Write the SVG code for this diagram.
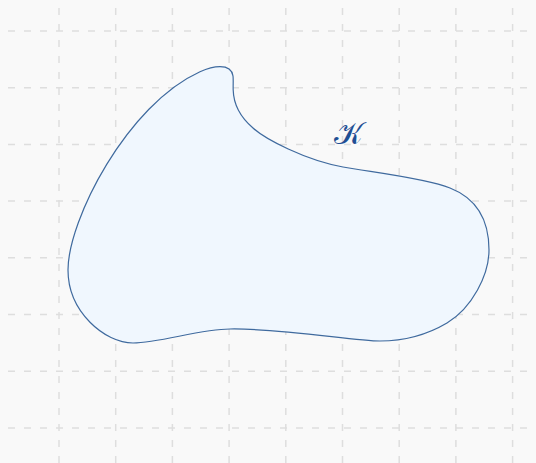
<svg xmlns="http://www.w3.org/2000/svg" width="536" height="463" viewBox="0 0 536 463">
<style>
.grid line{stroke:#dedede;stroke-width:1.5;stroke-dasharray:7 9}
.shape{fill:#f0f7fe;stroke:#3f6a9e;stroke-width:1.2}
.lbl{font-family:"DejaVu Sans","Noto Sans",sans-serif;font-size:31px;fill:#1f4f94}
</style>
<rect width="536" height="463" fill="#f9f9f9"/>
<g class="grid">
<line x1="59" y1="8" x2="59" y2="463"/>
<line x1="115.7" y1="8" x2="115.7" y2="463"/>
<line x1="172.4" y1="8" x2="172.4" y2="463"/>
<line x1="229.1" y1="8" x2="229.1" y2="463"/>
<line x1="285.8" y1="8" x2="285.8" y2="463"/>
<line x1="342.5" y1="8" x2="342.5" y2="463"/>
<line x1="399.2" y1="8" x2="399.2" y2="463"/>
<line x1="455.9" y1="8" x2="455.9" y2="463"/>
<line x1="512.6" y1="8" x2="512.6" y2="463"/>
<line x1="8" y1="31" x2="536" y2="31"/>
<line x1="8" y1="87.7" x2="536" y2="87.7"/>
<line x1="8" y1="144.4" x2="536" y2="144.4"/>
<line x1="8" y1="201.1" x2="536" y2="201.1"/>
<line x1="8" y1="257.8" x2="536" y2="257.8"/>
<line x1="8" y1="314.5" x2="536" y2="314.5"/>
<line x1="8" y1="371.2" x2="536" y2="371.2"/>
<line x1="8" y1="427.9" x2="536" y2="427.9"/>
</g>
<g id="region-K">
<path class="shape" d="M 220,66.6 C 227,66.6 232,69 233,76 C 233.5,80 233,84 233.2,90 C 233.5,102 239,116 253,128 C 265,139 305,160 343,167 C 370,172 425,178 450,188 C 478,199 489,222 489,250 C 489,275 472,308 447,323 C 425,336 400,341 380,341 C 355,341 280,328 230,329 C 200,329 160,343 133,343 C 105,343 68,312 68,270 C 68,220 127.2,104.5 200,71.7 C 206.4,68.8 214,66.6 220,66.6 Z"/>
<text class="lbl" x="348" y="144" text-anchor="middle">𝒦</text>
</g>
</svg>
